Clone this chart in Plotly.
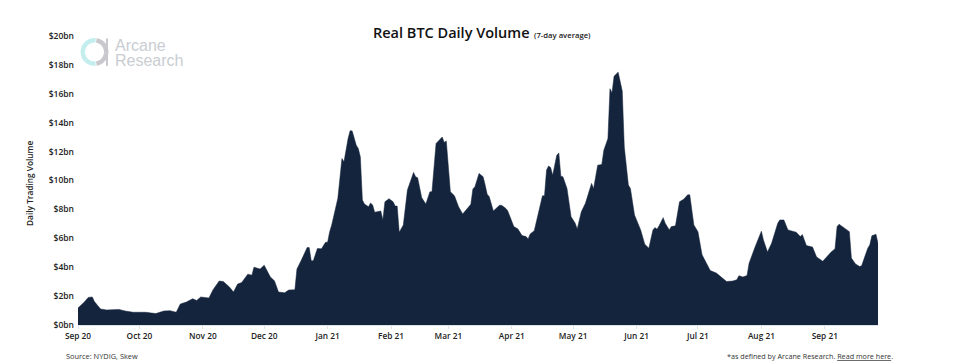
import numpy as np
import pandas as pd
import plotly.graph_objects as go

START_DATE = "2020-09-01"
day_offsets = [0,3,5,7,8,11,14,20,23,27,33,38,42,45,48,50,53,56,58,60,64,66,69,71,74,76,78,80,83,85,86,89,91,94,96,98,
    101,103,106,107,109,112,113,114,115,117,119,121,122,123,124,127,129,130,132,133,134,136,137,138,139,140,142,143,144,145,148,149,
    150,152,154,155,156,157,159,161,164,165,166,168,170,172,173,175,178,179,180,182,184,186,188,191,192,193,194,196,198,199,
    200,201,203,206,207,209,210,213,215,217,219,220,221,223,225,227,228,229,230,231,232,234,235,236,237,239,241,243,244,246,248,
    251,252,254,256,257,259,260,261,262,264,265,266,267,269,270,272,275,277,279,281,282,283,284,286,287,289,290,292,294,296,298,299,
    301,303,305,307,309,312,314,317,320,322,323,325,327,328,331,333,334,335,337,339,342,343,345,347,351,353,354,356,359,361,364,365,
    368,370,371,372,377,378,380,382,383,386,387,388,390,391]
volume_bn = [1.18,1.57,1.91,1.94,1.63,1.11,1.04,1.08,0.97,0.88,0.88,0.79,0.97,0.99,0.88,1.45,1.59,1.82,1.70,1.94,1.87,2.44,3.04,3.01,2.63,2.28,2.83,2.94,3.52,3.45,4.0,3.87,4.14,3.32,3.06,2.28,
    2.23,2.42,2.44,3.87,4.44,5.36,5.36,4.44,4.44,5.29,5.27,5.73,5.73,6.46,6.92,8.77,11.52,11.29,12.90,13.45,13.43,12.44,12.21,11.63,8.65,8.37,8.19,8.44,8.30,7.80,7.89,7.27,
    8.53,8.74,8.53,8.23,8.23,6.42,6.92,9.34,10.56,10.26,10.19,8.81,8.37,9.22,9.22,12.56,13.01,12.63,12.74,9.22,8.94,8.19,7.68,8.23,8.35,9.41,9.57,10.49,10.26,9.68,
    9.04,8.88,7.89,8.28,8.28,8.08,7.91,6.81,6.65,6.19,6.12,5.96,6.30,6.53,7.73,8.94,8.94,10.72,11.01,10.90,10.37,11.75,11.91,10.30,10.26,9.45,7.50,7.04,6.65,7.84,8.42,
    9.80,9.45,11.06,11.11,12.10,12.90,16.35,16.07,17.22,17.50,16.81,16.19,12.32,9.68,9.45,7.61,6.58,5.59,5.32,6.58,6.74,6.63,6.86,7.43,7.04,6.58,6.81,6.86,8.53,8.70,9.01,9.01,
    6.92,6.46,4.86,4.28,3.77,3.59,3.36,3.01,3.04,3.13,3.41,3.32,3.43,4.28,5.43,6.12,6.49,5.89,5.06,5.66,7.04,7.27,7.27,6.58,6.42,6.12,6.26,5.50,5.39,4.70,4.42,4.56,
    5.04,5.27,6.81,6.97,6.46,4.63,4.23,4.05,4.10,5.32,5.55,6.17,6.28,5.66]
tick_dates = ["2020-09-01","2020-10-01","2020-11-01","2020-12-01","2021-01-01","2021-02-01","2021-03-01","2021-04-01","2021-05-01","2021-06-01","2021-07-01","2021-08-01","2021-09-01"]
tick_labels = ["Sep 20","Oct 20","Nov 20","Dec 20","Jan 21","Feb 21","Mar 21","Apr 21","May 21","Jun 21","Jul 21","Aug 21","Sep 21"]
y_ticks = list(range(0, 22, 2))
y_labels = [f"${v}bn" for v in y_ticks]

W, H = 980, 362
L, R, T, B = 78, 877.7, 35.5, 325.5
FONT = "Open Sans"
NAVY = "#14243c"
dates = pd.Timestamp(START_DATE) + pd.to_timedelta(day_offsets, unit="D")

def px(x, y):
    return (x - L) / (R - L), (B - y) / (B - T)

def arc(cx, cy, r, a0, a1, n=60):
    pts = []
    for a in np.linspace(a0, a1, n):
        pts.append(px(cx + r * np.cos(a), cy - r * np.sin(a)))
    return "M" + " L".join(f"{x:.5f},{y:.5f}" for x, y in pts)

fig = go.Figure(go.Scatter(x=dates, y=volume_bn, mode="lines", line=dict(color=NAVY, width=0.5),
                           fill="tozeroy", fillcolor=NAVY, hoverinfo="skip"))

def note(text, x, y, size, color="#1a1a1a", anchor="left", weight=400, angle=0, family=FONT):
    fx, fy = px(x, y)
    fig.add_annotation(text=text, x=fx, y=fy, xref="paper", yref="paper", showarrow=False, textangle=angle,
                       xanchor=anchor, yanchor="middle", align="left",
                       font=dict(family=family, size=size, color=color, weight=weight))

note("Real BTC Daily Volume", 371, 32, 14.5, "#111111", weight=600)
note("(7-day average)", 532, 34.5, 7.7, "#222222", weight=600)
note("Daily Trading Volume", 30, 183, 8.3, "#222222", "center", 600, -90)
note("Source: NYDIG, Skew", 64.5, 356.5, 7.4, "#333333")
note("*as defined by Arcane Research. <u>Read more here</u>.", 724.5, 356.5, 7.2, "#333333")
note("Arcane", 113, 45.5, 16, "#c9cdd2", family="Liberation Sans")
note("Research", 113, 60, 16, "#c9cdd2", family="Liberation Sans")

fig.add_shape(type="path", xref="paper", yref="paper", path=arc(94.5, 51.5, 11.7, np.pi * 0.47, np.pi * 1.53),
              line=dict(color="#c4eeee", width=4.5))
fig.add_shape(type="path", xref="paper", yref="paper", path=arc(94.5, 51.5, 11.7, np.pi * -0.45, np.pi * 0.45),
              line=dict(color="#c8c8ce", width=4.5))
x0, y0 = px(107, 38)
x1, y1 = px(107, 65.5)
fig.add_shape(type="line", xref="paper", yref="paper", x0=x0, y0=y0, x1=x1, y1=y1, line=dict(color="#c8c8ce", width=2))

fig.update_layout(
    width=W, height=H, autosize=False, showlegend=False,
    paper_bgcolor="white", plot_bgcolor="white",
    margin=dict(l=L, r=W - R, t=T, b=H - B, autoexpand=False),
    xaxis=dict(type="date", range=[dates[0], dates[-1]], tickmode="array", tickvals=tick_dates, ticktext=tick_labels,
               showgrid=False, zeroline=False, showline=True, linecolor="#dfe3e8", linewidth=1,
               ticks="outside", ticklen=3, tickcolor="#dfe3e8", tickangle=0,
               tickfont=dict(family=FONT, size=8.3, color="#222222", weight=600)),
    yaxis=dict(range=[0, 20], tickmode="array", tickvals=y_ticks, ticktext=y_labels, showgrid=False, zeroline=False,
               showline=False, ticks="", ticklabelstandoff=3,
               tickfont=dict(family=FONT, size=8.5, color="#222222", weight=600)),
)
fig.write_html("out.html", config={"displayModeBar": False},
               post_script="document.body.style.margin='0';document.body.style.overflow='hidden';")
